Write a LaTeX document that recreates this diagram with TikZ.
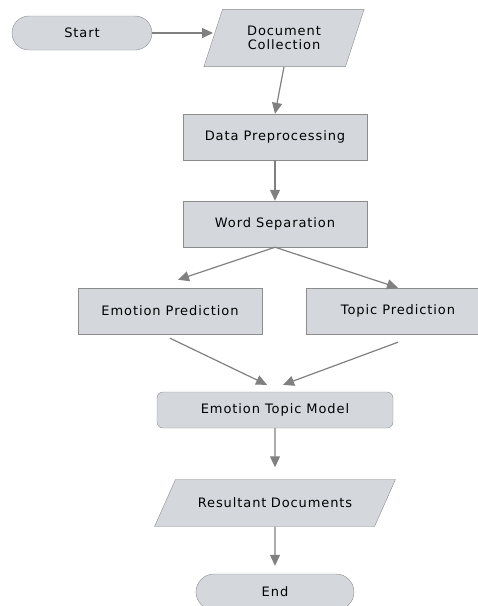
\documentclass[tikz,border=0pt]{standalone}
\usepackage{fontspec}
\setmainfont{DejaVu Sans}[LetterSpace=7]
\usetikzlibrary{shapes.geometric,shapes.misc,arrows.meta}

\definecolor{boxfill}{RGB}{212,216,221}
\definecolor{boxline}{RGB}{140,140,140}
\definecolor{flowgray}{RGB}{128,128,128}

\begin{document}
\begin{tikzpicture}[
  x=1pt, y=-1pt,
  every node/.style={font=\fontsize{13}{13.5}\selectfont, text=black},
  terminal/.style={draw=boxline, fill=boxfill, rounded rectangle,
    minimum width=140pt, minimum height=34pt, inner sep=0pt},
  process/.style={draw=boxline, fill=boxfill, rectangle,
    minimum width=184pt, minimum height=46pt, inner sep=0pt},
  model/.style={draw=boxline, fill=boxfill, rectangle, rounded corners=6pt,
    minimum width=236pt, minimum height=36pt, inner sep=0pt},
  data/.style={draw=boxline, fill=boxfill, trapezium, align=center},
  flow/.style={flowgray, line width=1.2pt, -{Triangle[length=11pt,width=10pt]}},
]

% ---- Page frame (478 x 606 px) ----
\useasboundingbox (0,0) rectangle (478,606);

% ---- Nodes ----
\node[terminal] (start) at (82,33) {Start};
\node[data, text width=74pt, inner xsep=24.5pt, inner ysep=17pt,
  trapezium left angle=72, trapezium right angle=108] (doc) at (284,38)
  {Document\\Collection};
\node[process] (prep) at (275,137) {Data Preprocessing};
\node[process] (word) at (275,224) {Word Separation};
\node[process] (emo) at (170,311) {Emotion Prediction};
\node[process] (topic) at (398,311) {Topic Prediction};
\node[model] (etm) at (275,410) {Emotion Topic Model};
\node[data, text width=158pt, inner xsep=20.5pt, inner ysep=18.5pt,
  trapezium left angle=66, trapezium right angle=114] (res) at (275,503)
  {Resultant Documents};
\node[terminal, minimum width=158pt, minimum height=36pt] (end) at (275,592) {End};

% ---- Connectors ----
\draw[flow] (start.east) -- (doc.west |- start.east);
\draw[flow] (doc.south) -- (prep.north);
\draw[flow] (prep.south) -- (word.north);
\draw[flow] (word.south) -- ([xshift=8pt, yshift=8pt]emo.north);
\draw[flow] (word.south) -- (topic.north);
\draw[flow] ([yshift=-4pt]emo.south) -- ([xshift=-8pt, yshift=7pt]etm.north);
\draw[flow] ([yshift=-8pt]topic.south) -- ([xshift=8pt, yshift=7pt]etm.north);
\draw[flow] (etm.south) -- ([yshift=12pt]res.north);
\draw[flow] (res.south) -- ([yshift=8pt]end.north);

\end{tikzpicture}
\end{document}
